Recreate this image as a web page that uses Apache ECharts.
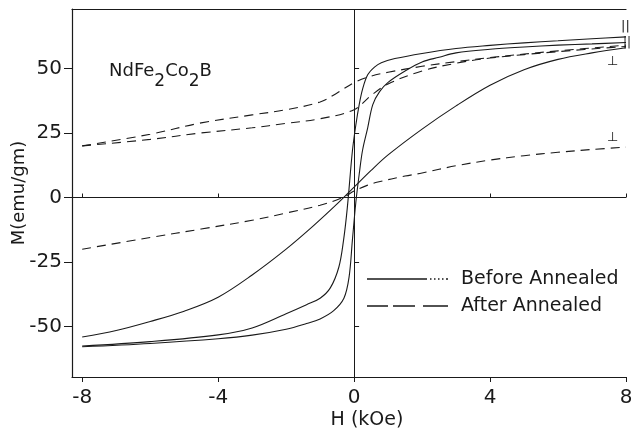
<!DOCTYPE html>
<html>
<head>
<meta charset="utf-8">
<script src="https://cdn.jsdelivr.net/npm/echarts@6/dist/echarts.min.js"></script>
<style>
html, body { margin: 0; padding: 0; background: #fff; }
#chart { width: 631px; height: 428px; }
</style>
</head>
<body>
<div id="chart"></div>
<script>
var xTicks = [-8, -4, 0, 4, 8];
var yTicks = [-50, -25, 0, 25, 50];

// before annealed, parallel (two steep branches)
var beforeParOuter = [[-8,-57.5],[-6,-55.8],[-4,-53.2],[-3,-50.5],[-2,-45],[-1.4,-41.5],[-1,-39],[-0.7,-35],[-0.45,-27],[-0.31,-16.5],[-0.2,-4],[-0.05,18],[0.05,28],[0.15,36],[0.25,42],[0.4,47.5],[0.6,50.5],[0.8,52.2],[1.2,53.8],[2,55.8],[3,57.7],[4,58.9],[5,59.9],[6,60.7],[7,61.5],[8,62.2]];
var beforeParInner = [[-8,-57.8],[-6,-56.5],[-4,-54.7],[-3,-53.3],[-2,-51],[-1.4,-48.8],[-1,-47],[-0.6,-43.8],[-0.3,-39],[-0.15,-31],[-0.05,-16.5],[0.05,-2],[0.15,9],[0.25,18.4],[0.4,27],[0.55,36],[0.75,41],[1,44.6],[1.5,49],[2,52.5],[2.5,54.3],[3,56],[4,57.4],[5,58.3],[6,59],[7,59.5],[8,60]];
// before annealed, perpendicular
var beforePerp = [[-8,-54],[-7,-51.5],[-6,-48],[-5,-44],[-4,-38.6],[-3,-30],[-2,-20],[-1.2,-11],[-0.5,-2.5],[0,4],[0.5,10.5],[1,16.5],[2,26.5],[3,35.5],[4,43.5],[5,49.5],[6,53.5],[7,56],[8,58]];
// after annealed
var afterParUpper = [[-8,20],[-6,24.5],[-4.5,28.9],[-3,32],[-2,34],[-1,37],[-0.5,40.5],[0,44.5],[0.5,47],[1,48.5],[2,50.8],[3,52.6],[4,54.2],[6,56.8],[8,59]];
var afterParLower = [[-8,20],[-6,22.5],[-4.5,25],[-3,27],[-2,28.7],[-1,30.5],[0,34],[0.5,39.5],[1,44],[2,49],[3,52],[4,54],[6,56.5],[8,58.5]];
var afterPerp = [[-8,-20],[-6,-15.5],[-4.5,-12.2],[-3,-8.8],[-2,-6],[-1,-3],[-0.3,0.2],[0,2.5],[0.4,4.8],[0.7,6],[1.5,8.3],[2,9.5],[3,12.3],[4,14.5],[5,16.2],[6,17.5],[7,18.6],[8,19.5]];

var font = '"DejaVu Sans", sans-serif';
var ink = '#1a1a1a';

var iconBefore = 'path://M0,0H60V1.5H0Z M63,0H64.5V1.5H63Z M67,0H68.5V1.5H67Z M71,0H72.5V1.5H71Z M75,0H76.5V1.5H75Z M79,0H81V1.5H79Z';
var iconAfter = 'path://M0,0H21V1.5H0Z M26,0H48V1.5H26Z M56,0H81V1.5H56Z';

function curve(name, data, dashed) {
    return {
        name: name,
        type: 'line',
        data: data,
        smooth: 0.35,
        showSymbol: false,
        symbol: 'none',
        silent: true,
        lineStyle: { color: ink, width: 1.1, type: dashed ? [9, 6] : 'solid' },
        itemStyle: { color: ink }
    };
}

var myChart = echarts.init(document.getElementById('chart'));

var series = [
    curve('Before Annealed', beforeParOuter, false),
    curve('Before Annealed', beforeParInner, false),
    curve('Before Annealed', beforePerp, false),
    curve('After Annealed', afterParUpper, true),
    curve('After Annealed', afterParLower, true),
    curve('After Annealed', afterPerp, true)
];
series[0].markLine = {
    silent: true,
    symbol: 'none',
    label: { show: false },
    lineStyle: { color: ink, width: 1, type: 'solid' },
    data: [{ xAxis: 0 }, { yAxis: 0 }]
};

option = {
    animation: false,
    backgroundColor: '#fff',
    grid: { left: 72, right: 5, top: 9, bottom: 51, containLabel: false, outerBoundsMode: 'none' },
    legend: {
        orient: 'vertical',
        left: 367,
        top: 268,
        itemWidth: 81,
        itemHeight: 2,
        itemGap: 5,
        padding: 0,
        data: [
            { name: 'Before Annealed', icon: iconBefore },
            { name: 'After Annealed', icon: iconAfter }
        ],
        textStyle: { fontFamily: font, fontSize: 19, lineHeight: 22, color: ink, padding: [0, 0, 0, 8] }
    },
    xAxis: [
        {
            type: 'value', min: -8.3, max: 8,
            name: 'H (kOe)', nameLocation: 'middle', nameGap: 34, nameMoveOverlap: false,
            nameTextStyle: { fontFamily: font, fontSize: 19, color: ink, padding: [0, 0, 0, 36] },
            axisLine: { onZero: false, lineStyle: { color: ink, width: 1.2 } },
            axisTick: { show: true, length: 5, customValues: xTicks, lineStyle: { color: ink } },
            axisLabel: { customValues: xTicks, fontFamily: font, fontSize: 20, color: ink, margin: 11 },
            splitLine: { show: false }
        },
        {
            type: 'value', min: -8.3, max: 8, position: 'top',
            axisLine: { onZero: false, lineStyle: { color: ink, width: 1.2 } },
            axisTick: { show: false }, axisLabel: { show: false }, splitLine: { show: false }
        },
        {
            type: 'value', min: -8.3, max: 8, position: 'bottom',
            axisLine: { show: false },
            axisTick: { show: true, inside: true, length: 4, customValues: xTicks, lineStyle: { color: ink } },
            axisLabel: { show: false }, splitLine: { show: false }
        }
    ],
    yAxis: [
        {
            type: 'value', min: -69.5, max: 73,
            name: 'M(emu/gm)', nameLocation: 'middle', nameGap: 44, nameRotate: 90, nameMoveOverlap: false,
            nameTextStyle: { fontFamily: font, fontSize: 18, color: ink },
            axisLine: { show: true, onZero: false, lineStyle: { color: ink, width: 1.2 } },
            axisTick: { show: true, length: 8, customValues: yTicks, lineStyle: { color: ink } },
            axisLabel: { customValues: yTicks, fontFamily: font, fontSize: 20, color: ink, margin: 10 },
            splitLine: { show: false }
        },
        {
            type: 'value', min: -69.5, max: 73, position: 'left',
            axisLine: { show: false },
            axisTick: { show: true, inside: true, length: 5, customValues: yTicks, lineStyle: { color: ink } },
            axisLabel: { show: false }, splitLine: { show: false }
        }
    ],
    graphic: [
        {
            type: 'text', left: 109, top: 62,
            style: {
                text: '{n|NdFe}{s|2}{n|Co}{s|2}{n|B}',
                fill: ink,
                rich: {
                    n: { fontFamily: font, fontSize: 18, lineHeight: 20, verticalAlign: 'top', fill: ink },
                    s: { fontFamily: font, fontSize: 17, lineHeight: 20, verticalAlign: 'top', padding: [11, 0, 0, 0], fill: ink }
                }
            }
        },
        { type: 'text', x: 621, y: 20, style: { text: '||', fontSize: 13, fontFamily: font, fill: ink } },
        { type: 'text', x: 623, y: 37, style: { text: '||', fontSize: 12, fontFamily: font, fill: ink } },
        { type: 'text', x: 607, y: 55, style: { text: '\u22a5', fontSize: 13, fontFamily: font, fill: ink } },
        { type: 'text', x: 607, y: 131, style: { text: '\u22a5', fontSize: 13, fontFamily: font, fill: ink } }
    ],
    series: series
};

myChart.setOption(option);
</script>
</body>
</html>
